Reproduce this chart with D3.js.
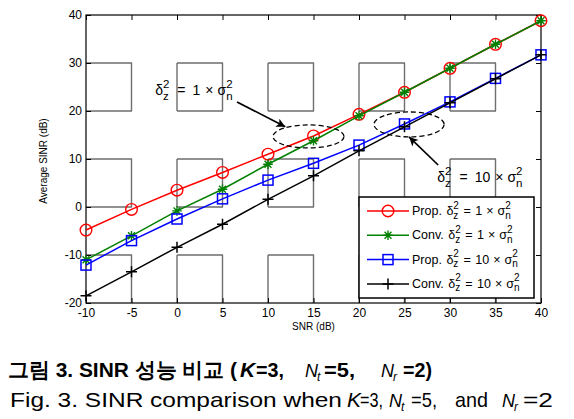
<!DOCTYPE html>
<html><head><meta charset="utf-8">
<script src="https://cdn.jsdelivr.net/npm/d3@7"></script>
<style>
html,body{margin:0;padding:0;background:#fff;}
svg{display:block;}
text{font-family:"Liberation Sans",Arial,sans-serif;}
</style></head>
<body>
<svg id="chart" width="574" height="419"></svg>
<script>
// ---------- data ----------
const snr = [-10, -5, 0, 5, 10, 15, 20, 25, 30, 35, 40];
const propLow  = [-4.8, -0.5, 3.5, 7.2, 11.0, 14.8, 19.3, 23.9, 28.9, 33.9, 38.8];
const convLow  = [-11.0, -6.0, -0.8, 3.7, 8.9, 13.8, 19.0, 23.9, 28.9, 33.9, 38.8];
const propHigh = [-12.1, -7.0, -2.5, 1.7, 5.6, 9.1, 12.9, 17.3, 21.9, 26.8, 31.7];
const convHigh = [-18.5, -13.5, -8.4, -3.6, 1.6, 6.5, 11.7, 16.7, 21.7, 26.7, 31.7];
const xTicks = [-10, -5, 0, 5, 10, 15, 20, 25, 30, 35, 40];
const yTicks = [-20, -10, 0, 10, 20, 30, 40];
const seriesNames = ["Prop.", "Conv.", "Prop.", "Conv."];
const seriesFactor = ["1", "1", "10", "10"];
const seriesColors = ["#ff0000", "#008000", "#0000ff", "#000000"];
const seriesMarkers = ["circle", "star", "square", "plus"];
const seriesValues = [propLow, convLow, propHigh, convHigh];
const xLabel = "SNR (dB)";
const yLabel = "Average SINR (dB)";
// annotations in data units
const ellipses = [{cx: 14.45, cy: 14.7, rx: 3.9, ry: 2.4}, {cx: 25.5, cy: 17.2, rx: 3.85, ry: 2.6}];
const arrows = [{x1: 6.6, y1: 21.9, x2: 11.9, y2: 16.7}, {x1: 28.7, y1: 8.75, x2: 25.5, y2: 14.6}];
const notes = [{x: -2.4, y: 23.3, factor: "1"}, {x: 28.6, y: 5.2, factor: "10"}];

const svg = d3.select("#chart");
const x = d3.scaleLinear().domain([-10, 40]).range([86, 541]);
const y = d3.scaleLinear().domain([-20, 40]).range([303, 15]);

// ---------- grid ----------
const grid = svg.append("g").attr("stroke", "#6e6e6e").attr("stroke-width", 1.4);
yTicks.slice(1, -1).forEach(v => {
  grid.append("line").attr("x1", x(-10)).attr("x2", x(40)).attr("y1", y(v)).attr("y2", y(v))
    .attr("stroke-dasharray", "46,45");
});
xTicks.slice(1, -1).forEach(v => {
  grid.append("line").attr("x1", x(v)).attr("x2", x(v)).attr("y1", y(40)).attr("y2", y(-20))
    .attr("stroke-dasharray", "48,48").attr("stroke-dashoffset", 48);
});

// ---------- axes ----------
const fs = 12;
const fmt = d => String(d);
const axB = svg.append("g").attr("transform", `translate(0,${y(-20)})`)
  .call(d3.axisBottom(x).tickValues(xTicks).tickSize(-5).tickPadding(5).tickFormat(fmt));
const axL = svg.append("g").attr("transform", `translate(${x(-10)},0)`)
  .call(d3.axisLeft(y).tickValues(yTicks).tickSize(-5).tickPadding(4).tickFormat(fmt));
const axT = svg.append("g").attr("transform", `translate(0,${y(40)})`)
  .call(d3.axisTop(x).tickValues(xTicks).tickSize(-5).tickFormat(""));
const axR = svg.append("g").attr("transform", `translate(${x(40)},0)`)
  .call(d3.axisRight(y).tickValues(yTicks).tickSize(-5).tickFormat(""));
[axB, axL, axT, axR].forEach(a => {
  a.select(".domain").remove();
  a.selectAll(".tick line").attr("stroke", "#000").attr("stroke-width", 1);
  a.selectAll("text").attr("font-family", "Liberation Sans, Arial, sans-serif").attr("font-size", fs).attr("fill", "#000");
});
svg.append("rect").attr("x", x(-10)).attr("y", y(40)).attr("width", x(40) - x(-10)).attr("height", y(-20) - y(40))
  .attr("fill", "none").attr("stroke", "#000").attr("stroke-width", 1.2);

svg.append("text").attr("x", (x(-10) + x(40)) / 2).attr("y", 330).attr("text-anchor", "middle")
  .attr("font-size", 10).text(xLabel);
svg.append("text").attr("transform", "translate(47,161) rotate(-90)").attr("text-anchor", "middle")
  .attr("font-size", 10).text(yLabel);

// ---------- markers ----------
function drawMarker(g, type, cx, cy, color) {
  if (type === "circle") {
    g.append("circle").attr("cx", cx).attr("cy", cy).attr("r", 5.8).attr("fill", "none").attr("stroke", color).attr("stroke-width", 1.4);
  } else if (type === "square") {
    g.append("rect").attr("x", cx - 5).attr("y", cy - 5).attr("width", 10).attr("height", 10).attr("fill", "none").attr("stroke", color).attr("stroke-width", 1.5);
  } else if (type === "plus") {
    const s = 5.5;
    g.append("path").attr("d", `M${cx - s},${cy}H${cx + s}M${cx},${cy - s}V${cy + s}`).attr("stroke", color).attr("stroke-width", 1.5);
  } else if (type === "star") {
    const s = 4.8, d = s * 0.72;
    g.append("path").attr("d", `M${cx - s},${cy}H${cx + s}M${cx},${cy - s}V${cy + s}M${cx - d},${cy - d}L${cx + d},${cy + d}M${cx - d},${cy + d}L${cx + d},${cy - d}`)
      .attr("stroke", color).attr("stroke-width", 1.4);
  }
}

// ---------- series ----------
const line = d3.line().x((d, i) => x(snr[i])).y(d => y(d));
seriesValues.forEach((vals, si) => {
  const g = svg.append("g");
  g.append("path").datum(vals).attr("d", line).attr("fill", "none").attr("stroke", seriesColors[si]).attr("stroke-width", 1.5);
  vals.forEach((v, i) => drawMarker(g, seriesMarkers[si], x(snr[i]), y(v), seriesColors[si]));
});

// ---------- math text helper ----------
function mathText(g, x0, y0, parts, o) {
  let cx = x0;
  parts.forEach(p => {
    if (p.gap !== undefined) { cx += p.gap; return; }
    if (p.stack) {
      const a = g.append("text").attr("x", cx).attr("y", y0 - o.supDy).attr("font-size", o.small).text(p.stack[0]);
      const b = g.append("text").attr("x", cx).attr("y", y0 + o.subDy).attr("font-size", o.small).text(p.stack[1]);
      cx += Math.max(a.node().getComputedTextLength(), b.node().getComputedTextLength());
    } else {
      const t = g.append("text").attr("x", cx).attr("y", y0).attr("font-size", o.size).text(p.t);
      cx += t.node().getComputedTextLength();
    }
  });
}
function sinrParts(prefix, factor, gaps) {
  const parts = [];
  if (prefix) parts.push({t: prefix}, {gap: gaps[0]});
  parts.push({t: "\u03b4"}, {stack: ["2", "z"]}, {gap: gaps[1]}, {t: "="}, {gap: gaps[2]}, {t: factor},
    {gap: gaps[3]}, {t: "\u00d7"}, {gap: gaps[4]}, {t: "\u03c3"}, {stack: ["2", "n"]});
  return parts;
}

// ---------- annotations ----------
const ann = svg.append("g");
ellipses.forEach(e => {
  ann.append("ellipse").attr("cx", x(e.cx)).attr("cy", y(e.cy))
    .attr("rx", x(e.cx + e.rx) - x(e.cx)).attr("ry", y(e.cy) - y(e.cy + e.ry))
    .attr("fill", "none").attr("stroke", "#000").attr("stroke-width", 1.3).attr("stroke-dasharray", "5,3");
});
svg.append("defs").append("marker").attr("id", "ah").attr("viewBox", "0 0 10 10").attr("refX", 10).attr("refY", 5)
  .attr("markerWidth", 11).attr("markerHeight", 9).attr("markerUnits", "userSpaceOnUse").attr("orient", "auto")
  .append("path").attr("d", "M0,0L10,5L0,10L2.5,5Z").attr("fill", "#000");
arrows.forEach(a => {
  ann.append("line").attr("x1", x(a.x1)).attr("y1", y(a.y1)).attr("x2", x(a.x2)).attr("y2", y(a.y2))
    .attr("stroke", "#000").attr("stroke-width", 1.7).attr("marker-end", "url(#ah)");
});
notes.forEach(n => {
  mathText(ann, x(n.x), y(n.y), sinrParts("", n.factor, [0, 8, 7, 5, 4]), {size: 14, small: 11.5, supDy: 7, subDy: 4.5});
});

// ---------- legend ----------
const lg = svg.append("g");
lg.append("rect").attr("x", 359).attr("y", 197).attr("width", 175).attr("height", 101)
  .attr("fill", "#fff").attr("stroke", "#000").attr("stroke-width", 1.5);
seriesValues.forEach((vals, si) => {
  const cy = 211 + si * 24.3;
  lg.append("line").attr("x1", 367).attr("x2", 409).attr("y1", cy).attr("y2", cy).attr("stroke", seriesColors[si]).attr("stroke-width", 1.5);
  drawMarker(lg, seriesMarkers[si], 388, cy, seriesColors[si]);
  mathText(lg, 412, cy + 4, sinrParts(seriesNames[si], seriesFactor[si], [4.5, 4.5, 4.5, 4, 4]),
    {size: 12.5, small: 10, supDy: 6.5, subDy: 3.5});
});

// ---------- captions ----------
const captionKo = [
  {x: 8, t: "그림 3. SINR 성능 비교 (", w: 229},
  {x: 240, t: "K", style: "it"},
  {x: 256, t: "=3,", w: 28},
  {x: 305, t: "N", style: "math"}, {x: 317, t: "t", style: "mathsub"},
  {x: 324, t: "=5,", w: 31},
  {x: 381, t: "N", style: "math"}, {x: 393, t: "r", style: "mathsub"},
  {x: 403, t: "=2)", w: 29}
];
const captionEn = [
  {x: 10, t: "Fig. 3. SINR comparison when", w: 332},
  {x: 347, t: "K", style: "it"},
  {x: 360, t: "=3,", w: 23},
  {x: 389, t: "N", style: "math"}, {x: 401, t: "t", style: "mathsub"},
  {x: 411, t: "=5,", w: 26},
  {x: 455, t: "and", w: 33},
  {x: 502, t: "N", style: "math"}, {x: 514, t: "r", style: "mathsub"},
  {x: 523, t: "=2", w: 30}
];
function caption(parts, baseY, bold) {
  const g = svg.append("g");
  parts.forEach(p => {
    const t = g.append("text").attr("x", p.x).attr("y", baseY).text(p.t);
    if (p.style === "math" || p.style === "mathsub") {
      t.attr("font-family", "Liberation Serif, serif").attr("font-style", "italic")
        .attr("font-size", p.style === "math" ? 18 : 12).attr("y", p.style === "mathsub" ? baseY + 4 : baseY);
    } else {
      t.attr("font-family", "Liberation Sans, 'Noto Sans CJK KR', sans-serif").attr("font-size", 21)
        .attr("font-weight", bold ? "bold" : "normal");
      if (p.style === "it") t.attr("font-style", "italic");
      if (p.w) t.attr("textLength", p.w).attr("lengthAdjust", "spacingAndGlyphs");
    }
  });
}
caption(captionKo, 377, true);
caption(captionEn, 407, false);
</script>
</body></html>
